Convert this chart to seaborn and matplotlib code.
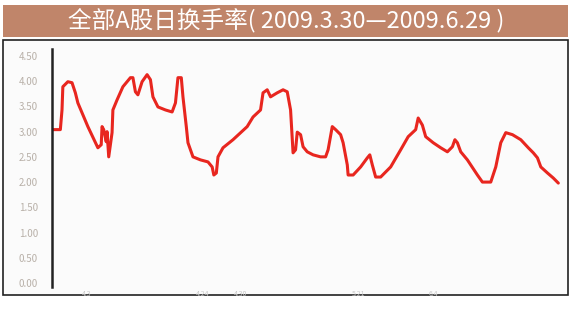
import pandas as pd
import numpy as np
import matplotlib
matplotlib.use('Agg')
import matplotlib.pyplot as plt
import seaborn as sns
from matplotlib.patches import Rectangle

# trading-day offset from 2009.3.30 and daily turnover (%)
days = [0.0, 1.0, 1.2, 1.3, 1.9, 2.4, 2.8, 3.1, 4.3, 5.5, 5.9, 6.0, 6.2, 6.5, 6.6, 6.8,
        7.2, 7.3, 7.8, 8.5, 9.4, 9.7, 10.0, 10.3, 10.8, 11.4, 11.8, 12.1, 12.7, 13.6,
        14.4, 14.8, 15.1, 15.5, 15.7, 16.1, 16.3, 16.9, 17.8, 18.7, 19.2, 19.4, 19.7,
        19.9, 20.5, 21.7, 23.4, 24.1, 25.0, 25.3, 25.8, 26.2, 27.0, 27.7, 28.2, 28.6,
        28.9, 29.2, 29.4, 29.8, 30.1, 30.6, 31.3, 32.2, 32.8, 33.1, 33.6, 34.0, 34.6,
        34.9, 35.4, 35.5, 36.1, 37.0, 37.8, 38.1, 38.4, 38.8, 39.4, 40.6, 41.8, 42.7,
        43.6, 43.9, 44.4, 44.8, 45.7, 46.6, 47.4, 48.0, 48.3, 48.6, 49.0, 49.8, 51.0,
        51.6, 52.6, 53.2, 53.8, 54.4, 55.2, 56.2, 57.1, 57.7, 58.2, 58.6, 59.4, 60.1, 60.7]
turnover = [3.04, 3.04, 3.43, 3.89, 3.99, 3.97, 3.77, 3.57, 3.10, 2.68, 2.74, 3.10, 3.04,
            2.80, 3.00, 2.50, 2.98, 3.43, 3.63, 3.89, 4.07, 4.07, 3.79, 3.73, 3.99, 4.13,
            4.03, 3.69, 3.49, 3.43, 3.39, 3.57, 4.07, 4.07, 3.69, 3.10, 2.78, 2.50, 2.44,
            2.40, 2.30, 2.14, 2.18, 2.50, 2.68, 2.84, 3.10, 3.29, 3.43, 3.77, 3.83, 3.69,
            3.77, 3.83, 3.79, 3.43, 2.58, 2.64, 2.99, 2.94, 2.70, 2.60, 2.54, 2.50, 2.50,
            2.64, 3.10, 3.04, 2.94, 2.78, 2.34, 2.14, 2.14, 2.30, 2.48, 2.54, 2.34, 2.10,
            2.10, 2.30, 2.64, 2.90, 3.04, 3.27, 3.13, 2.90, 2.78, 2.68, 2.60, 2.70, 2.84,
            2.78, 2.60, 2.44, 2.14, 2.00, 2.00, 2.30, 2.78, 2.98, 2.94, 2.84, 2.68, 2.58,
            2.48, 2.30, 2.18, 2.08, 1.98]

y_ticks = [0.0, 0.5, 1.0, 1.5, 2.0, 2.5, 3.0, 3.5, 4.0, 4.5]
x_ticks = [4.2, 18.1, 22.6, 36.7, 45.7]
x_labels = ['4.3', '4.24', '4.30', '5.21', '6.4']
title = '全部A股日换手率( 2009.3.30—2009.6.29 )'

df = pd.DataFrame({'day': days, 'turnover': turnover})

sns.set_style('white')
plt.rcParams['font.family'] = ['Noto Sans CJK SC', 'DejaVu Sans']

fig = plt.figure(figsize=(5.72, 3.21), dpi=100)

# title bar and chart frame, kept behind the axes
fig.patches.append(Rectangle((3 / 572, 1 - 37 / 321), 565 / 572, 32 / 321,
                             transform=fig.transFigure, facecolor='#c0856a',
                             edgecolor='none', zorder=-2))
fig.patches.append(Rectangle((3 / 572, 1 - 295 / 321), 565 / 572, 255 / 321,
                             transform=fig.transFigure, facecolor='#fbfbfb',
                             edgecolor='#222222', linewidth=1.2, zorder=-2))
fig.text(0.5, 1 - 21 / 321, title, ha='center', va='center', color='white', fontsize=17)

ax = fig.add_axes([52 / 572, 0.106, 513 / 572, 0.740])
ax.set_zorder(2)
ax.patch.set_alpha(0)
sns.lineplot(data=df, x='day', y='turnover', ax=ax, color='#e8261f', linewidth=2.2)

ax.set_xlim(0, 61.5)
ax.set_ylim(-0.08, 4.63)
ax.set_yticks(y_ticks)
ax.set_yticklabels([f'{v:.2f}' for v in y_ticks], color='#b8b0a8', fontsize=7)
ax.set_xticks(x_ticks)
ax.set_xticklabels(x_labels, color='#c8c8c8', fontsize=5)
ax.tick_params(axis='y', direction='in', length=2, width=1, color='#333333', pad=10)
ax.tick_params(axis='x', length=0, pad=2)
ax.set_xlabel('')
ax.set_ylabel('')

for s in ['top', 'right', 'bottom']:
    ax.spines[s].set_visible(False)
ax.spines['left'].set_color('#222222')
ax.spines['left'].set_linewidth(1.8)

fig.savefig('out.png', dpi=100)
